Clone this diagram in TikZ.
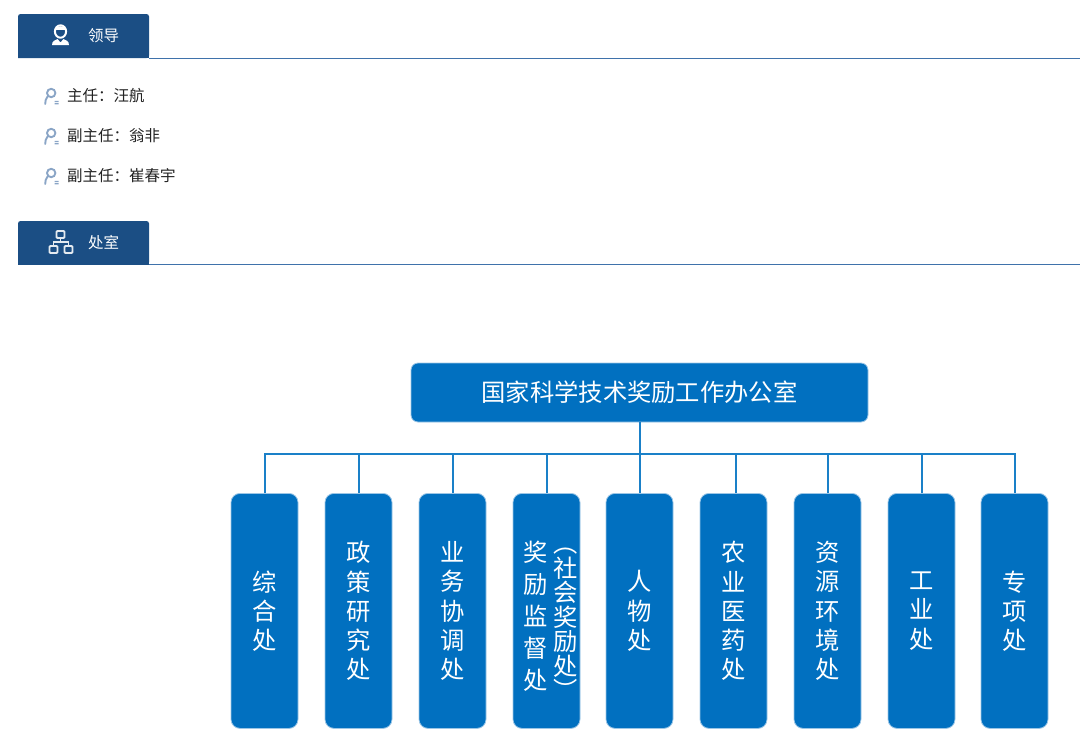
\documentclass[tikz,border=0pt]{standalone}
\usepackage{fontspec}
\setmainfont{Noto Sans CJK SC}
\definecolor{tabblue}{HTML}{1B4E84}
\definecolor{rulecol}{HTML}{3F72AB}
\definecolor{boxblue}{HTML}{0170C0}
\definecolor{boxedge}{HTML}{9CC6E6}
\definecolor{linkcol}{HTML}{1A80C8}
\definecolor{iconcol}{HTML}{8AA5C6}
\definecolor{inkcol}{HTML}{222222}
\tikzset{
  tabshape/.style={fill=tabblue,draw=none,rounded corners=2.5pt},
  tablabel/.style={text=white,font=\fontsize{15.5}{16}\selectfont,inner sep=0pt,anchor=center},
  listlabel/.style={text=inkcol,font=\fontsize{15.5}{16}\selectfont,inner sep=0pt,anchor=west},
  unit/.style={fill=boxblue,draw=boxedge,line width=0.8pt,rounded corners=9pt,minimum width=67pt,minimum height=235pt,inner sep=0pt,text=white,anchor=north},
  rootbox/.style={fill=boxblue,draw=boxedge,line width=0.8pt,rounded corners=7pt,minimum width=457pt,minimum height=59pt,inner sep=0pt,text=white,font=\fontsize{24.3}{26}\selectfont},
  stack/.style={align=center,inner sep=0pt,text=white,font=\fontsize{24.3}{29.2}\selectfont},
  link/.style={draw=linkcol,line width=2pt},
  headrule/.style={draw=rulecol,line width=1pt},
  personicon/.style={draw=iconcol,line width=1.9pt,fill=none}
}
\newcommand{\listicon}[2]{%
  \begin{scope}[shift={(#1,#2)}]
    \draw[personicon] (7.2,5) circle (4.2pt);
    \draw[personicon,line cap=round] (3.6,8.5) .. controls (1.8,10.5) and (1.2,13) .. (1.2,16);
    \fill[iconcol] (10.5,12.8) rectangle (14.5,14.2) (10.5,15) rectangle (14.5,16.4);
  \end{scope}}
\begin{document}
\begin{tikzpicture}[x=1pt,y=-1pt]
\useasboundingbox (0,0) rectangle (1080,755);
% header 1
\coordinate (ruleA) at (1080,58);
\coordinate (ruleB) at (1080,264.5);
\path[tabshape] (18,58) -- (18,14) -- (149,14) -- (149,58) [sharp corners] -- cycle;
\fill[tabblue] (18,30) rectangle (149,58);
\coordinate (tabAend) at (149,58);
\draw[headrule] (tabAend) -- (ruleA);
\node[tablabel] (lead) at (103.5,35.5) {领导};
% leader icon
\fill[white] (52,45) .. controls (52,41) and (55,40) .. (57.5,39) -- (60.5,42.5) -- (63.5,39) .. controls (66,40) and (69,41) .. (69,45) -- cycle;
\draw[white,line width=2pt] (60.5,31.5) ellipse (5.6pt and 6.2pt);
\fill[white] (55,29.5) .. controls (55,25) and (66,25) .. (66,29.5) -- cycle;
% list
\listicon{44}{88}
\listicon{44}{128}
\listicon{44}{168}
\node[listlabel] (p1) at (67,96) {主任：汪航};
\node[listlabel] (p2) at (67,136) {副主任：翁非};
\node[listlabel] (p3) at (67,176) {副主任：崔春宇};
% header 2
\path[tabshape] (18,264.5) -- (18,221) -- (149,221) -- (149,264.5) [sharp corners] -- cycle;
\fill[tabblue] (18,237) rectangle (149,264.5);
\coordinate (tabBend) at (149,264.5);
\draw[headrule] (tabBend) -- (ruleB);
\node[tablabel] (dept) at (103.5,242.5) {处室};
% org icon
\begin{scope}[draw=white!88!tabblue,line width=1.9pt]
\draw[rounded corners=1pt] (56.5,231) rectangle (64.5,238);
\draw[rounded corners=1pt] (49.5,246) rectangle (57.5,253);
\draw[rounded corners=1pt] (64.5,246) rectangle (72.5,253);
\draw (60.5,238) -- (60.5,242) (53.5,246) -- (53.5,242) -- (68.5,242) -- (68.5,246);
\end{scope}
% org chart
\coordinate (bus) at (639.5,454);
\node[unit] (b1) at (264.5,493) {};
\node[unit] (b2) at (358.5,493) {};
\node[unit] (b3) at (452.5,493) {};
\node[unit] (b4) at (546.5,493) {};
\node[unit] (b5) at (639.5,493) {};
\node[unit] (b6) at (733.5,493) {};
\node[unit] (b7) at (827.5,493) {};
\node[unit] (b8) at (921.5,493) {};
\node[unit] (b9) at (1014.5,493) {};
\node[rootbox] (root) at (639.5,392.5) {国家科学技术奖励工作办公室};
\draw[link] (root.south) -- (b5.north);
\draw[link] (b1.north) |- (bus) -| (b9.north);
\foreach \n in {b2,b3,b4,b7,b8}{\draw[link] (\n.north) -- (\n.north |- bus);}
\draw[link] ([xshift=2pt]b6.north) -- ([xshift=2pt]b6.north |- bus);
% texts
\node[stack] (t1) at (264.5,611) {综\\合\\处};
\node[stack] (t2) at (358.5,611) {政\\策\\研\\究\\处};
\node[stack] (t3) at (452.5,611) {业\\务\\协\\调\\处};
\node[stack,font=\fontsize{24.3}{32}\selectfont] (t4a) at (536,616.5) {奖\\励\\监\\督\\处};
\node[stack,font=\fontsize{24.3}{24.5}\selectfont] (t4b) at (566,624) {︵\\社\\会\\奖\\励\\处\\︶};
\node[stack] (t5) at (639.5,611) {人\\物\\处};
\node[stack] (t6) at (733.5,611) {农\\业\\医\\药\\处};
\node[stack] (t7) at (827.5,611) {资\\源\\环\\境\\处};
\node[stack] (t8) at (921.5,611) {工\\业\\处};
\node[stack] (t9) at (1014.5,611) {专\\项\\处};
\end{tikzpicture}
\end{document}
